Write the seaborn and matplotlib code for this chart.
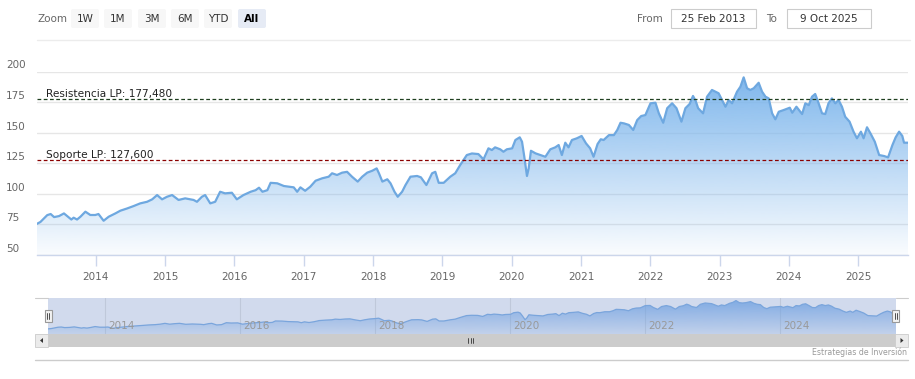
import numpy as np
import pandas as pd
import matplotlib
matplotlib.use("Agg")
import matplotlib.pyplot as plt
import matplotlib.dates as mdates
from matplotlib.patches import Rectangle, FancyBboxPatch, Polygon
import seaborn as sns

# ---------------- data ----------------
dates = [
    "2013-02-25", "2013-03-15", "2013-04-20", "2013-05-08", "2013-05-26", "2013-06-21",
    "2013-07-17", "2013-08-25", "2013-09-06", "2013-09-24", "2013-10-12", "2013-11-07",
    "2013-12-03", "2013-12-29", "2014-01-15", "2014-02-11", "2014-03-10", "2014-04-14",
    "2014-05-10", "2014-06-14", "2014-07-19", "2014-08-23", "2014-09-28", "2014-10-25",
    "2014-11-20", "2014-12-16", "2015-01-11", "2015-02-07", "2015-03-13", "2015-04-17",
    "2015-05-31", "2015-06-18", "2015-07-14", "2015-07-31", "2015-08-27", "2015-09-22",
    "2015-10-18", "2015-11-13", "2015-12-19", "2016-01-14", "2016-02-18", "2016-03-27",
    "2016-04-22", "2016-05-10", "2016-05-28", "2016-06-23", "2016-07-10", "2016-08-14",
    "2016-09-18", "2016-11-09", "2016-11-27", "2016-12-14", "2017-01-08", "2017-02-04",
    "2017-03-04", "2017-04-08", "2017-05-12", "2017-05-30", "2017-06-25", "2017-07-22",
    "2017-08-17", "2017-09-12", "2017-10-12", "2017-11-05", "2017-12-01", "2017-12-28",
    "2018-01-20", "2018-02-01", "2018-02-19", "2018-03-17", "2018-04-03", "2018-04-24",
    "2018-05-11", "2018-06-03", "2018-06-21", "2018-07-17", "2018-08-21", "2018-09-10",
    "2018-10-09", "2018-11-08", "2018-11-25", "2018-12-13", "2019-01-08", "2019-02-12",
    "2019-03-10", "2019-04-05", "2019-05-10", "2019-06-06", "2019-07-10", "2019-08-06",
    "2019-09-01", "2019-09-19", "2019-10-06", "2019-11-02", "2019-11-19", "2019-12-07",
    "2020-01-04", "2020-01-21", "2020-02-13", "2020-02-25", "2020-03-08", "2020-03-22",
    "2020-03-31", "2020-04-12", "2020-05-06", "2020-06-01", "2020-06-27", "2020-07-23",
    "2020-08-18", "2020-09-05", "2020-09-22", "2020-10-10", "2020-10-27", "2020-11-14",
    "2020-12-10", "2021-01-04", "2021-01-27", "2021-02-18", "2021-03-08", "2021-03-29",
    "2021-04-15", "2021-04-30", "2021-05-28", "2021-06-23", "2021-07-11", "2021-07-28",
    "2021-08-15", "2021-09-10", "2021-10-03", "2021-10-24", "2021-11-14", "2021-12-06",
    "2022-01-02", "2022-01-28", "2022-02-15", "2022-03-10", "2022-03-31", "2022-04-26",
    "2022-05-19", "2022-06-14", "2022-07-05", "2022-07-27", "2022-08-14", "2022-08-28",
    "2022-09-10", "2022-10-06", "2022-10-27", "2022-11-22", "2022-12-27", "2023-02-01",
    "2023-02-18", "2023-03-08", "2023-04-03", "2023-04-21", "2023-05-08", "2023-05-26",
    "2023-06-12", "2023-06-30", "2023-07-26", "2023-08-13", "2023-08-31", "2023-09-17",
    "2023-10-05", "2023-10-22", "2023-11-09", "2023-12-05", "2024-01-06", "2024-01-19",
    "2024-02-10", "2024-03-11", "2024-03-28", "2024-04-15", "2024-05-02", "2024-05-19",
    "2024-06-06", "2024-06-24", "2024-07-11", "2024-07-28", "2024-08-15", "2024-09-02",
    "2024-09-19", "2024-10-07", "2024-10-24", "2024-11-16", "2024-12-07", "2024-12-25",
    "2025-01-15", "2025-01-29", "2025-02-16", "2025-03-08", "2025-03-29", "2025-04-21",
    "2025-05-17", "2025-06-07", "2025-06-30", "2025-07-17", "2025-08-04", "2025-08-21",
    "2025-08-30", "2025-09-20",
]
values = [
    75.5, 77.0, 82.6, 83.5, 81.0, 81.8,
    84.0, 79.0, 80.5, 79.0, 81.3, 85.4,
    82.7, 82.7, 83.5, 78.0, 81.3, 84.0,
    86.2, 88.0, 90.0, 92.2, 93.5, 95.5,
    99.0, 95.5, 97.6, 99.0, 95.0, 96.3,
    95.0, 93.5, 97.6, 99.0, 92.2, 93.5,
    101.7, 100.4, 100.9, 95.5, 99.0, 101.7,
    103.0, 105.0, 101.7, 103.0, 109.0, 108.6,
    106.4, 105.3, 101.7, 105.3, 102.5, 105.8,
    110.7, 112.7, 114.0, 116.8, 115.4, 117.3,
    118.0, 114.0, 110.0, 114.0, 117.3, 118.9,
    120.8, 116.8, 110.0, 111.9, 108.6, 101.7,
    97.6, 101.7, 107.2, 114.0, 114.6, 113.5,
    107.2, 116.8, 118.0, 109.0, 109.0, 114.0,
    116.8, 123.5, 131.7, 133.0, 132.5, 128.2,
    137.2, 135.8, 138.0, 136.4, 134.4, 136.4,
    137.2, 144.0, 146.2, 142.6, 130.3, 114.6,
    120.8, 135.2, 133.1, 131.7, 130.3, 136.4,
    138.0, 139.9, 131.7, 141.8, 138.0, 144.0,
    145.4, 147.3, 141.3, 137.2, 130.3, 140.7,
    144.6, 144.0, 148.0, 148.0, 152.2, 158.1,
    157.6, 156.3, 152.2, 160.3, 163.6, 164.4,
    174.0, 174.5, 165.8, 158.1, 170.0, 174.0,
    170.0, 159.0, 170.0, 173.4, 180.0, 176.0,
    170.0, 165.8, 179.4, 184.9, 182.2, 171.2,
    176.7, 174.0, 183.5, 187.6, 195.2, 186.3,
    184.9, 186.3, 190.8, 183.5, 179.4, 178.0,
    165.8, 160.9, 167.1, 168.5, 170.4, 166.3,
    171.2, 165.2, 174.0, 172.5, 179.4, 181.6,
    174.0, 165.8, 165.2, 174.0, 178.0, 174.0,
    176.7, 171.2, 163.0, 159.0, 150.8, 145.4,
    150.8, 145.4, 154.4, 148.9, 142.6, 131.7,
    130.9, 129.8, 139.9, 146.2, 150.8, 147.3,
    141.8, 141.8,
]
resistance_value = 177.48
support_value = 127.60
resistance_label = "Resistencia LP: 177,480"
support_label = "Soporte LP: 127,600"
y_ticks = [50, 75, 100, 125, 150, 175, 200]
x_years = list(range(2014, 2026))
nav_years = [2014, 2016, 2018, 2020, 2022, 2024]
zoom_buttons = ["1W", "1M", "3M", "6M", "YTD", "All"]
from_date = "25 Feb 2013"
to_date = "9 Oct 2025"
credits = "Estrategias de Inversión"

# ---------------- setup ----------------
sns.set_theme(style="white")
plt.rcParams["font.family"] = ["DejaVu Sans"]

W, H = 915, 379
fig = plt.figure(figsize=(W / 100, H / 100), dpi=100)
fig.patch.set_facecolor("white")


def fx(px):
    return px / W


def fy(py):
    return 1 - py / H


df = pd.DataFrame({"date": pd.to_datetime(dates), "value": values})
x0, x1 = df["date"].iloc[0], df["date"].iloc[-1]


def gradient_area(axis, ymin, ymax, rgb, a_top, a_bottom, z=1):
    poly = axis.fill_between(df["date"], df["value"], ymin,
                             facecolor="none", edgecolor="none")
    grad = np.zeros((256, 1, 4))
    grad[:, 0, 0] = rgb[0] / 255
    grad[:, 0, 1] = rgb[1] / 255
    grad[:, 0, 2] = rgb[2] / 255
    grad[:, 0, 3] = np.linspace(a_top, a_bottom, 256)
    xn = mdates.date2num([x0, x1])
    im = axis.imshow(grad, extent=[xn[0], xn[1], ymin, ymax], aspect="auto",
                     origin="upper", zorder=z, interpolation="bilinear")
    im.set_clip_path(poly.get_paths()[0], transform=axis.transData)


# ---------------- main chart ----------------
ax = fig.add_axes([fx(37), fy(255), fx(908) - fx(37), fy(71.5) - fy(255)])
ax.set_facecolor("white")
sns.lineplot(data=df, x="date", y="value", ax=ax, color="#6ea8e0",
             linewidth=1.6, zorder=3)
gradient_area(ax, 50, 200, (124, 181, 236), 1.0, 0.04, z=2)
ax.set_xlim(x0, x1)
ax.set_ylim(50, 200)
ax.set_yticks(y_ticks)
ax.set_yticklabels([])
ax.tick_params(axis="y", length=0)
ax.grid(axis="y", color="#e6e6e6", linewidth=1, zorder=0)
ax.grid(axis="x", visible=False)
ax.set_axisbelow(True)
for s in ["left", "right", "top"]:
    ax.spines[s].set_visible(False)
ax.spines["bottom"].set_color("#ccd6eb")
ax.spines["bottom"].set_linewidth(1)
ax.set_xticks([pd.Timestamp(f"{y}-01-01") for y in x_years])
ax.set_xticklabels([str(y) for y in x_years])
ax.tick_params(axis="x", length=8, width=1, color="#ccd6eb", pad=4,
               labelcolor="#666666", labelsize=7.5, bottom=True, direction="out")
ax.set_xlabel("")
ax.set_ylabel("")

for v in y_ticks:
    ax.annotate(str(v), xy=(0, v), xycoords=("axes fraction", "data"),
                xytext=(-31, 6), textcoords="offset pixels", ha="left",
                va="center", fontsize=7.5, color="#666666", annotation_clip=False)

ax.axhline(resistance_value, color="#1f3f1f", linestyle=(0, (3, 2)),
           linewidth=0.9, zorder=4)
ax.axhline(support_value, color="#8b0000", linestyle=(0, (3, 2)),
           linewidth=0.9, zorder=4)
ax.annotate(resistance_label, xy=(0, resistance_value),
            xycoords=("axes fraction", "data"), xytext=(9, 2.5),
            textcoords="offset pixels", ha="left", va="baseline",
            fontsize=7.6, color="#222222", zorder=5)
ax.annotate(support_label, xy=(0, support_value),
            xycoords=("axes fraction", "data"), xytext=(9, 2.5),
            textcoords="offset pixels", ha="left", va="baseline",
            fontsize=7.6, color="#222222", zorder=5)

# ---------------- navigator ----------------
nav = fig.add_axes([fx(48), fy(334), fx(896) - fx(48), fy(298) - fy(334)])
nav.set_facecolor("#d1daed")
for yv in nav_years:
    nav.axvline(pd.Timestamp(f"{yv}-01-01"), color="#bfc8da", linewidth=0.8,
                zorder=0.5)
sns.lineplot(data=df, x="date", y="value", ax=nav, color="#7aa5dc",
             linewidth=0.9, zorder=3)
gradient_area(nav, 54, 206, (110, 160, 225), 0.85, 0.15, z=2)
nav.set_xlim(x0, x1)
nav.set_ylim(54, 206)
nav.set_xticks([])
nav.set_yticks([])
nav.set_xlabel("")
nav.set_ylabel("")
for s in nav.spines.values():
    s.set_visible(False)
for yv in nav_years:
    nav.annotate(str(yv), xy=(pd.Timestamp(f"{yv}-01-01"), 0),
                 xycoords=("data", "axes fraction"), xytext=(3, 8),
                 textcoords="offset pixels", ha="left", va="center",
                 fontsize=7.5, color="#999999", zorder=5)

# ---------------- overlay (toolbar, scrollbar, credits) ----------------
ov = fig.add_axes([0, 0, 1, 1], zorder=10)
ov.set_xlim(0, W)
ov.set_ylim(H, 0)
ov.axis("off")
ov.patch.set_alpha(0)

ov.text(37, 18.5, "Zoom", ha="left", va="center", fontsize=7.5, color="#666666")
btn_x = [71, 104, 138, 171, 204, 238]
for bx, lab in zip(btn_x, zoom_buttons):
    sel = lab == "All"
    ov.add_patch(FancyBboxPatch((bx, 9), 28, 19,
                                boxstyle="round,pad=0,rounding_size=2",
                                facecolor="#e6ebf5" if sel else "#f7f7f7",
                                edgecolor="none"))
    ov.text(bx + 14, 18.5, lab, ha="center", va="center", fontsize=7.5,
            color="#000000" if sel else "#333333",
            fontweight="bold" if sel else "normal")

ov.text(637, 18.5, "From", ha="left", va="center", fontsize=7.5, color="#666666")
ov.add_patch(Rectangle((670.5, 9), 85, 19, facecolor="white",
                       edgecolor="#cccccc", linewidth=0.8))
ov.text(713, 18.5, from_date, ha="center", va="center", fontsize=7.5,
        color="#333333")
ov.text(766, 18.5, "To", ha="left", va="center", fontsize=7.5, color="#666666")
ov.add_patch(Rectangle((786.5, 9), 84, 19, facecolor="white",
                       edgecolor="#cccccc", linewidth=0.8))
ov.text(828.5, 18.5, to_date, ha="center", va="center", fontsize=7.5,
        color="#333333")
ov.plot([37, 910], [39.5, 39.5], color="#ececec", linewidth=1)

# navigator outline pieces
ov.plot([35, 48], [298, 298], color="#cccccc", linewidth=0.8)
ov.plot([896, 908], [298, 298], color="#cccccc", linewidth=0.8)

# handles
for hx in [44.5, 892]:
    ov.add_patch(Rectangle((hx, 310), 7, 12, facecolor="#f2f2f2",
                           edgecolor="#999999", linewidth=0.8))
    ov.plot([hx + 2.5, hx + 2.5], [313, 319], color="#333333", linewidth=0.6)
    ov.plot([hx + 4.5, hx + 4.5], [313, 319], color="#333333", linewidth=0.6)

# scrollbar
ov.add_patch(Rectangle((35, 334), 873, 13, facecolor="#f2f2f2", edgecolor="none"))
ov.add_patch(Rectangle((48, 334), 848, 13, facecolor="#cccccc", edgecolor="none"))
ov.add_patch(Rectangle((35, 334), 13, 13, facecolor="#ebebeb",
                       edgecolor="#cccccc", linewidth=0.6))
ov.add_patch(Rectangle((895, 334), 13, 13, facecolor="#ebebeb",
                       edgecolor="#cccccc", linewidth=0.6))
ov.add_patch(Polygon([[43, 338], [43, 343], [40, 340.5]], closed=True,
                     facecolor="#333333", edgecolor="none"))
ov.add_patch(Polygon([[900.5, 338], [900.5, 343], [903.5, 340.5]], closed=True,
                     facecolor="#333333", edgecolor="none"))
for gx in [468, 470.5, 473]:
    ov.plot([gx, gx], [338, 343], color="#333333", linewidth=0.6)

ov.plot([35, 908], [360, 360], color="#cccccc", linewidth=1)
ov.text(907, 352.5, credits, ha="right", va="center", fontsize=5.6,
        color="#999999")

fig.savefig("out.png", dpi=100, facecolor="white")
